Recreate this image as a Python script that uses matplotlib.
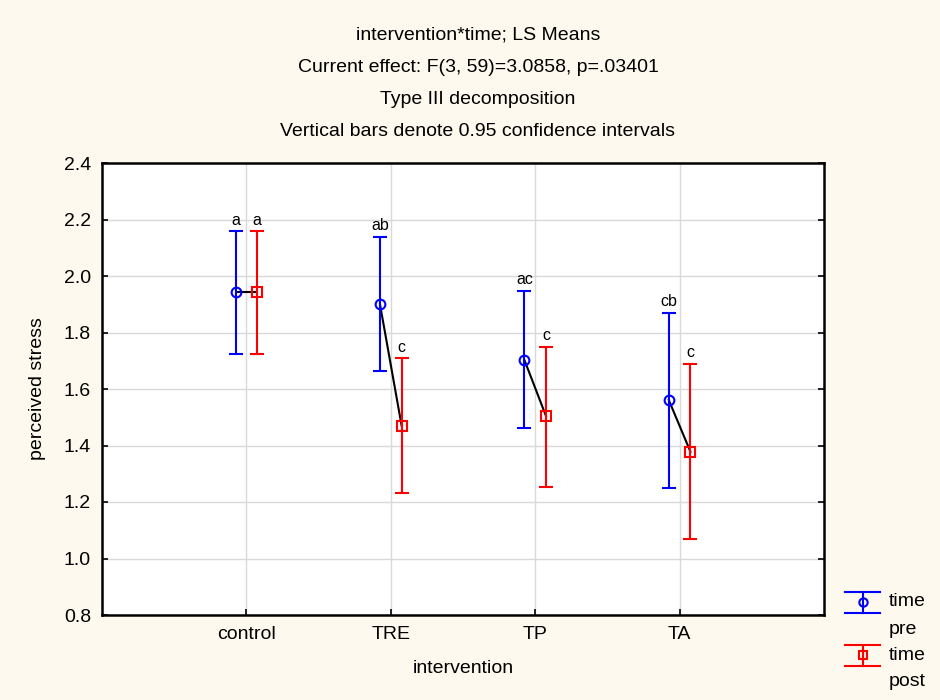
import numpy as np
import matplotlib.pyplot as plt
from matplotlib.lines import Line2D

plt.rcParams['font.family'] = ['Liberation Sans', 'DejaVu Sans']

# data
groups = ['control', 'TRE', 'TP', 'TA']
pre_mean = [1.942, 1.900, 1.703, 1.561]
pre_low = [1.723, 1.664, 1.461, 1.250]
pre_high = [2.159, 2.139, 1.948, 1.870]
post_mean = [1.942, 1.470, 1.504, 1.378]
post_low = [1.723, 1.233, 1.252, 1.070]
post_high = [2.159, 1.709, 1.750, 1.689]
pre_letters = ['a', 'ab', 'ac', 'cb']
post_letters = ['a', 'c', 'c', 'c']

titles = ['intervention*time; LS Means',
          'Current effect: F(3, 59)=3.0858, p=.03401',
          'Type III decomposition',
          'Vertical bars denote 0.95 confidence intervals']

bg = '#fef9ee'
fs = 14
fig = plt.figure(figsize=(9.4, 7), dpi=100, facecolor=bg)
ax = fig.add_axes([102 / 940, 1 - 615 / 700, 722 / 940, 452 / 700])
ax.set_facecolor('white')

x = np.arange(1, len(groups) + 1)
off = 0.075
xpre = x - off
xpost = x + off

pre_mean = np.array(pre_mean)
post_mean = np.array(post_mean)
pre_err = [pre_mean - np.array(pre_low), np.array(pre_high) - pre_mean]
post_err = [post_mean - np.array(post_low), np.array(post_high) - post_mean]

# black lines joining pre and post within each group
for i in range(len(groups)):
    ax.plot([xpre[i], xpost[i]], [pre_mean[i], post_mean[i]], color='black', lw=1.5, zorder=2)

ax.errorbar(xpre, pre_mean, yerr=pre_err, fmt='o', color='blue', mfc='none', mec='blue',
            ms=7, mew=1.5, elinewidth=1.5, capsize=5, capthick=1.5, zorder=3)
ax.errorbar(xpost, post_mean, yerr=post_err, fmt='s', color='red', mfc='none', mec='red',
            ms=7, mew=1.5, elinewidth=1.5, capsize=5, capthick=1.5, zorder=3)

for xi, hi, lab in zip(xpre, pre_high, pre_letters):
    ax.annotate(lab, (xi, hi), xytext=(0, 2.5), textcoords='offset points',
                ha='center', va='bottom', fontsize=11.5)
for xi, hi, lab in zip(xpost, post_high, post_letters):
    ax.annotate(lab, (xi, hi), xytext=(0, 2.5), textcoords='offset points',
                ha='center', va='bottom', fontsize=11.5)

ax.set_xlim(0, 5)
ax.set_ylim(0.8, 2.4)
ax.set_xticks(x)
ax.set_xticklabels(groups)
ax.set_yticks(np.arange(0.8, 2.41, 0.2))
ax.set_yticklabels([f'{v:.1f}' for v in np.arange(0.8, 2.41, 0.2)])
ax.tick_params(direction='in', length=4, width=1.2, labelsize=fs, pad=8,
               right=True, top=False)
ax.grid(True, color='#d9d9d9', lw=1)
ax.set_axisbelow(True)
for s in ax.spines.values():
    s.set_linewidth(1.8)
ax.set_xlabel('intervention', fontsize=fs, labelpad=12)
ax.set_ylabel('perceived stress', fontsize=fs, labelpad=13)

for i, t in enumerate(titles):
    fig.text(478 / 940, 1 - (35 + 32 * i) / 700, t, ha='center', va='center', fontsize=fs)

# legend drawn by hand to get the wide caps
def leg_item(yc, color, marker, label):
    xc = 862.5
    kw = dict(color=color, lw=1.5, transform=None)
    sc = fig.dpi / 100
    def P(px, py):
        return px * sc, (700 - py) * sc
    for yy in (yc - 10.5, yc + 10.5):
        (x0, y0), (x1, y1) = P(xc - 17.5, yy), P(xc + 17.5, yy)
        fig.add_artist(Line2D([x0, x1], [y0, y1], **kw))
    (x0, y0), (x1, y1) = P(xc, yc - 10.5), P(xc, yc + 10.5)
    fig.add_artist(Line2D([x0, x1], [y0, y1], **kw))
    mx, my = P(xc, yc)
    fig.add_artist(Line2D([mx], [my], marker=marker, ms=6, mfc='none', mec=color,
                          mew=1.5, transform=None))
    fig.text(889 / 940, 1 - yc / 700, 'time', ha='left', va='center', fontsize=fs)
    fig.text(889 / 940, 1 - (yc + 27) / 700, label, ha='left', va='center', fontsize=fs)

leg_item(602, 'blue', 'o', 'pre')
leg_item(655, 'red', 's', 'post')

fig.savefig('out.png', dpi=100, facecolor=bg)
